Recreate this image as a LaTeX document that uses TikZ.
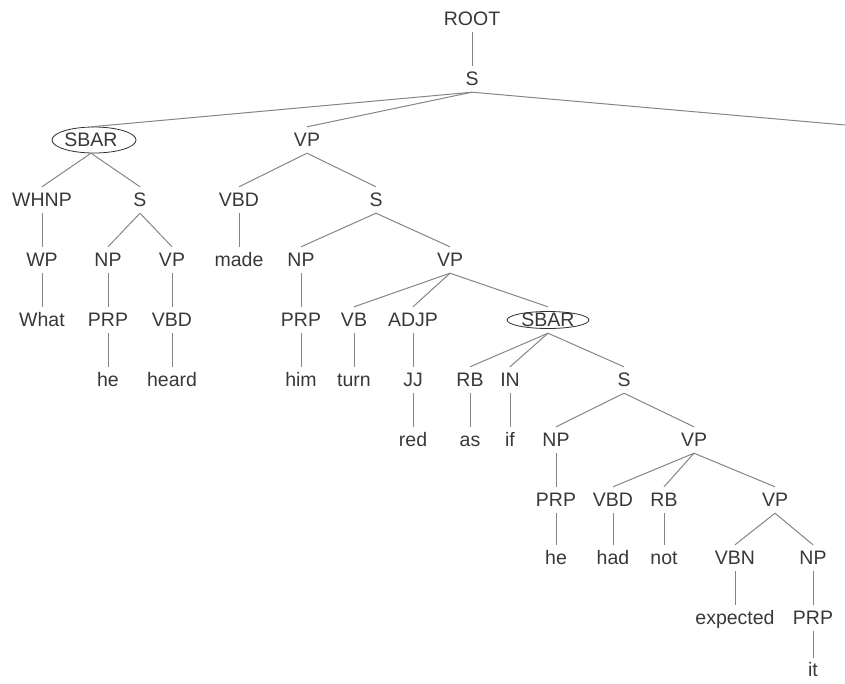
\documentclass[tikz,border=0pt]{standalone}
\usepackage{fontspec}
\setmainfont{Liberation Sans}
\definecolor{txt}{HTML}{383838}
\definecolor{edgec}{HTML}{858585}
\definecolor{ellc}{HTML}{303030}
\begin{document}
\begin{tikzpicture}[x=1pt,y=-1pt,
  lab/.style={inner sep=0pt, minimum height=26pt, text height=13.6pt, text depth=0pt,
              font=\fontsize{19.5}{20}\selectfont, text=txt},
  edg/.style={draw=edgec, line width=1pt},
  sbarring/.style={draw=ellc, line width=0.8pt}]
\useasboundingbox (0,0) rectangle (845,683);
% nodes
\node[lab] (ROOT) at (472,19) {ROOT};
\node[lab] (S0) at (472,79) {S};
\node[lab] (SBAR1) at (91,140) {SBAR};
\node[lab] (VP1) at (307,140) {VP};
\coordinate (Sright) at (845,125);
\node[lab] (WHNP) at (42,200) {WHNP};
\node[lab] (S1) at (140,200) {S};
\node[lab] (VBD1) at (239,200) {VBD};
\node[lab] (S2) at (376,200) {S};
\node[lab] (WP) at (42,260) {WP};
\node[lab] (NP1) at (108,260) {NP};
\node[lab] (VP2) at (172,260) {VP};
\node[lab] (made) at (239,260) {made};
\node[lab] (NP2) at (301,260) {NP};
\node[lab] (VP3) at (450,260) {VP};
\node[lab] (What) at (42,320) {What};
\node[lab] (PRP1) at (108,320) {PRP};
\node[lab] (VBD2) at (172,320) {VBD};
\node[lab] (PRP2) at (301,320) {PRP};
\node[lab] (VB) at (354,320) {VB};
\node[lab] (ADJP) at (413,320) {ADJP};
\node[lab] (SBAR2) at (548,320) {SBAR};
\node[lab] (he1) at (108,380) {he};
\node[lab] (heard) at (172,380) {heard};
\node[lab] (him) at (301,380) {him};
\node[lab] (turn) at (354,380) {turn};
\node[lab] (JJ) at (413,380) {JJ};
\node[lab] (RB1) at (470,380) {RB};
\node[lab] (IN) at (510,380) {IN};
\node[lab] (S3) at (624,380) {S};
\node[lab] (red) at (413,440) {red};
\node[lab] (as) at (470,440) {as};
\node[lab] (if) at (510,440) {if};
\node[lab] (NP3) at (556,440) {NP};
\node[lab] (VP4) at (694,440) {VP};
\node[lab] (PRP3) at (556,500) {PRP};
\node[lab] (VBD3) at (613,500) {VBD};
\node[lab] (RB2) at (664,500) {RB};
\node[lab] (VP5) at (775,500) {VP};
\node[lab] (he2) at (556,558) {he};
\node[lab] (had) at (613,558) {had};
\node[lab] (not) at (664,558) {not};
\node[lab] (VBN) at (735,558) {VBN};
\node[lab] (NP4) at (813,558) {NP};
\node[lab] (expected) at (735,618) {expected};
\node[lab] (PRP4) at (813,618) {PRP};
\node[lab, minimum height=14pt] (it) at (813,670) {it};
% ellipses
\draw[sbarring] ([xshift=3pt]SBAR1.center) ellipse (42 and 13);
\draw[sbarring] (SBAR2.center) ellipse (41 and 8.5);
% edges
\draw[edg] (ROOT.south) -- (S0.north);
\draw[edg] (S0.south) -- (SBAR1.north);
\draw[edg] (S0.south) -- (VP1.north);
\draw[edg] (S0.south) -- (Sright);
\draw[edg] (SBAR1.south) -- (WHNP.north);
\draw[edg] (SBAR1.south) -- (S1.north);
\draw[edg] (VP1.south) -- (VBD1.north);
\draw[edg] (VP1.south) -- (S2.north);
\draw[edg] (WHNP.south) -- (WP.north);
\draw[edg] (S1.south) -- (NP1.north);
\draw[edg] (S1.south) -- (VP2.north);
\draw[edg] (VBD1.south) -- (made.north);
\draw[edg] (S2.south) -- (NP2.north);
\draw[edg] (S2.south) -- (VP3.north);
\draw[edg] (WP.south) -- (What.north);
\draw[edg] (NP1.south) -- (PRP1.north);
\draw[edg] (VP2.south) -- (VBD2.north);
\draw[edg] (NP2.south) -- (PRP2.north);
\draw[edg] (VP3.south) -- (VB.north);
\draw[edg] (VP3.south) -- (ADJP.north);
\draw[edg] (VP3.south) -- (SBAR2.north);
\draw[edg] (PRP1.south) -- (he1.north);
\draw[edg] (VBD2.south) -- (heard.north);
\draw[edg] (PRP2.south) -- (him.north);
\draw[edg] (VB.south) -- (turn.north);
\draw[edg] (ADJP.south) -- (JJ.north);
\draw[edg] (SBAR2.south) -- (RB1.north);
\draw[edg] (SBAR2.south) -- (IN.north);
\draw[edg] (SBAR2.south) -- (S3.north);
\draw[edg] (JJ.south) -- (red.north);
\draw[edg] (RB1.south) -- (as.north);
\draw[edg] (IN.south) -- (if.north);
\draw[edg] (S3.south) -- (NP3.north);
\draw[edg] (S3.south) -- (VP4.north);
\draw[edg] (NP3.south) -- (PRP3.north);
\draw[edg] (VP4.south) -- (VBD3.north);
\draw[edg] (VP4.south) -- (RB2.north);
\draw[edg] (VP4.south) -- (VP5.north);
\draw[edg] (PRP3.south) -- (he2.north);
\draw[edg] (VBD3.south) -- (had.north);
\draw[edg] (RB2.south) -- (not.north);
\draw[edg] (VP5.south) -- (VBN.north);
\draw[edg] (VP5.south) -- (NP4.north);
\draw[edg] (VBN.south) -- (expected.north);
\draw[edg] (NP4.south) -- (PRP4.north);
\draw[edg, shorten >=5pt] (PRP4.south) -- (it.north);
\end{tikzpicture}
\end{document}
